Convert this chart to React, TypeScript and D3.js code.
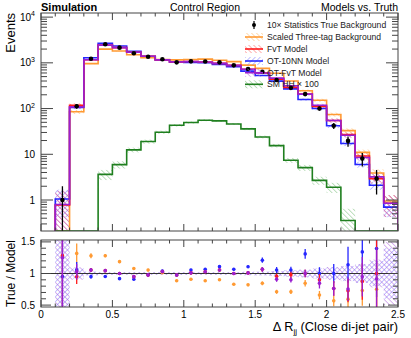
import * as d3 from "d3";

const FONT = "'Liberation Sans', Arial, Helvetica, sans-serif";

// bin edges of ΔR_jj (close di-jet pair)
const binEdges = [0.1, 0.2, 0.3, 0.4, 0.5, 0.6, 0.7, 0.8, 0.9, 1.0, 1.1, 1.2, 1.3, 1.4, 1.5, 1.6, 1.7, 1.8, 1.9, 2.0, 2.1, 2.2, 2.3, 2.4, 2.5];

// 10x statistics true background (points) and its relative error
const truth = [1.0, 112, 1230, 2550, 2150, 1620, 1360, 1195, 1026, 1079, 1070, 1026, 881, 731, 638, 420, 284, 207, 100, 42, 19.6, 8.05, 2.93, 0];
const truthErr = [1.0, 0.12, 0.03, 0.02, 0.02, 0.02, 0.02, 0.02, 0.02, 0.02, 0.02, 0.02, 0.02, 0.02, 0.035, 0.045, 0.05, 0.06, 0.1, 0.15, 0.25, 0.33, 0.55, 0];

// models
const threeTag = [0, 85, 960, 1990, 1810, 1500, 1290, 1180, 1158, 1186, 1208, 1140, 1061, 891, 755, 591, 400, 245, 152, 74, 33, 11, 3.9, 0.95];
const fvt = [0.78, 118, 1165, 2440, 2150, 1705, 1395, 1160, 1050, 1068, 1040, 972, 881, 724, 598, 440, 290, 207, 111, 55, 27, 9.2, 2.93, 0.85];
const ot10nn = [1.05, 106, 1295, 2680, 2340, 1780, 1390, 1150, 1051, 1022, 1003, 926, 826, 660, 527, 398, 269, 158, 100, 42, 17.2, 6, 2.1, 0.7];
const otFvt = [0.8, 109, 1165, 2440, 2150, 1705, 1395, 1160, 1050, 1068, 1040, 972, 881, 724, 598, 462, 315, 207, 118, 55, 26, 8.5, 3.2, 0.85];
const smHH = [0, 0, 0, 3.64, 5.95, 12.5, 19, 30.4, 43, 49.5, 55.7, 53.8, 46, 35.9, 23.9, 15.5, 7.4, 5.1, 2.69, 1.9, 0.357, 0, 0, 0];

// relative uncertainties (hatched bands)
const threeTagErr = [0, 0.1, 0.03, 0.02, 0.02, 0.02, 0.02, 0.02, 0.02, 0.02, 0.02, 0.02, 0.02, 0.02, 0.03, 0.04, 0.05, 0.06, 0.08, 0.1, 0.12, 0.15, 0.2, 0.35];
const fvtErr = [1.0, 0.1, 0.03, 0.02, 0.02, 0.02, 0.02, 0.02, 0.02, 0.02, 0.02, 0.02, 0.02, 0.02, 0.03, 0.04, 0.05, 0.06, 0.08, 0.1, 0.12, 0.15, 0.22, 0.5];
const ot10nnErr = [0.6, 0.08, 0.03, 0.02, 0.02, 0.02, 0.02, 0.02, 0.02, 0.02, 0.02, 0.02, 0.02, 0.03, 0.03, 0.04, 0.05, 0.06, 0.08, 0.1, 0.12, 0.15, 0.2, 0.4];
const smHHErr = [0, 0, 0, 0.25, 0.18, 0.12, 0.1, 0.08, 0.06, 0.05, 0.05, 0.05, 0.05, 0.06, 0.07, 0.09, 0.12, 0.15, 0.2, 0.25, 0.8, 0, 0, 0];

const yTickLabels = [
  { v: 1, base: "1", exp: "" },
  { v: 10, base: "10", exp: "" },
  { v: 100, base: "10", exp: "2" },
  { v: 1000, base: "10", exp: "3" },
  { v: 10000, base: "10", exp: "4" },
];
const ratioTicks = [0.5, 1, 1.5];
const xTickLabels = [0, 0.5, 1, 1.5, 2, 2.5];

const legendLabels = ["10× Statistics True Background", "Scaled Three-tag Background", "FvT Model", "OT-10NN Model", "OT-FvT Model", "SM HH × 100"];

const C = {
  orange: "#ff9a33",
  red: "#ff1a1a",
  blue: "#2626ff",
  purple: "#9a1fd0",
  green: "#1f7f1f",
};

const L = 41, R = 398;
const T1 = 13, B1 = 231;
const T2 = 240, B2 = 307;

export default function App() {
  const x = d3.scaleLinear().domain([0, 2.5]).range([L, R]);
  const y = d3.scaleLog().domain([0.21, 12300]).range([B1, T1]).clamp(true);
  const yr = d3.scaleLinear().domain([0.47, 1.53]).range([B2, T2]).clamp(true);
  const line = d3.line<[number, number]>();

  const yv = (v: number) => (v > 0 ? y(v) : B1);

  const stepPath = (vals: number[]) => {
    const pts: [number, number][] = [[x(binEdges[0]), B1]];
    vals.forEach((v, i) => {
      pts.push([x(binEdges[i]), yv(v)]);
      pts.push([x(binEdges[i + 1]), yv(v)]);
    });
    pts.push([x(binEdges[binEdges.length - 1]), B1]);
    return line(pts) || "";
  };

  const band = (vals: number[], errs: number[], pat: string, key: string) =>
    vals.map((v, i) => {
      if (v <= 0 || errs[i] <= 0) return null;
      const top = yv(v * (1 + errs[i]));
      const bot = v * (1 - errs[i]) > 0 ? yv(v * (1 - errs[i])) : B1;
      return (
        <rect key={`${key}-${i}`} x={x(binEdges[i])} y={top} width={x(binEdges[i + 1]) - x(binEdges[i])} height={Math.max(0, bot - top)} fill={`url(#${pat})`} />
      );
    });

  const ratioBand = (vals: number[], errs: number[], pat: string, key: string) =>
    vals.map((v, i) => {
      if (v <= 0 || errs[i] <= 0) return null;
      const top = yr(1 + errs[i]);
      const bot = yr(1 - errs[i]);
      return <rect key={`${key}-${i}`} x={x(binEdges[i])} y={top} width={x(binEdges[i + 1]) - x(binEdges[i])} height={bot - top} fill={`url(#${pat})`} />;
    });

  const models = [
    { vals: threeTag, errs: threeTagErr, color: C.orange, pat: "h-orange" },
    { vals: ot10nn, errs: ot10nnErr, color: C.blue, pat: "h-blue" },
    { vals: fvt, errs: fvtErr, color: C.red, pat: "h-red" },
    { vals: otFvt, errs: fvtErr, color: C.purple, pat: "h-purple" },
  ];

  const centers = binEdges.slice(0, -1).map((e, i) => (e + binEdges[i + 1]) / 2);

  // ticks
  const logTicks: { v: number; major: boolean }[] = [];
  for (let d = -1; d <= 4; d++) {
    for (let k = 1; k <= 9; k++) {
      const v = k * Math.pow(10, d);
      if (v >= 0.21 && v <= 12300) logTicks.push({ v, major: k === 1 });
    }
  }
  const xTicks = d3.range(0, 26).map((i) => ({ v: i / 10, major: i % 5 === 0 }));
  const rTicks = d3.range(5, 16).map((i) => ({ v: i / 10, major: i % 5 === 0 }));

  const hatch = (id: string, color: string, angle: number) => (
    <pattern id={id} patternUnits="userSpaceOnUse" width={3.5} height={3.5} patternTransform={`rotate(${angle})`}>
      <line x1={0} y1={0} x2={0} y2={3.5} stroke={color} strokeWidth={1} />
    </pattern>
  );

  const legendColors = [null, C.orange, C.red, C.blue, C.purple, C.green];
  const legendPats = [null, "h-orange", "h-red", "h-blue", "h-purple", "h-green"];
  const legendY = [25, 37, 49, 61, 72.7, 84.3];

  return (
    <svg width={411} height={338} style={{ position: "absolute", left: 0, top: 0, background: "#fff" }} fontFamily={FONT}>
      <defs>
        {hatch("h-orange", "#ffb866", -45)}
        {hatch("h-red", "#ff6666", -45)}
        {hatch("h-blue", "#8080ff", 45)}
        {hatch("h-purple", "#b066dd", -45)}
        {hatch("h-green", "#7fc07f", -45)}
        <clipPath id="clip-top">
          <rect x={L} y={T1} width={R - L} height={B1 - T1} />
        </clipPath>
        <clipPath id="clip-bot">
          <rect x={L} y={T2} width={R - L} height={B2 - T2} />
        </clipPath>
      </defs>

      {/* header */}
      <text x={L} y={10.5} fontSize={11} fontWeight="bold">Simulation</text>
      <text x={205} y={10.5} fontSize={10.5} textAnchor="middle">Control Region</text>
      <text x={R} y={10.5} fontSize={10.5} textAnchor="end">Models vs. Truth</text>

      {/* upper panel */}
      <g clipPath="url(#clip-top)">
        {band(smHH, smHHErr, "h-green", "bg")}
        {models.map((m) => band(m.vals, m.errs, m.pat, m.pat))}
        {models.map((m) => (
          <path key={m.color} d={stepPath(m.vals)} fill="none" stroke={m.color} strokeWidth={1.6} />
        ))}
        <path d={stepPath(smHH)} fill="none" stroke={C.green} strokeWidth={1.6} />
        {truth.map((v, i) =>
          v > 0 ? (
            <g key={`pt-${i}`}>
              <line x1={x(centers[i])} x2={x(centers[i])} y1={yv(v * (1 + truthErr[i]))} y2={v * (1 - truthErr[i]) > 0 ? yv(v * (1 - truthErr[i])) : B1} stroke="#000" strokeWidth={1.3} />
              <circle cx={x(centers[i])} cy={yv(v)} r={2.3} fill="#000" />
            </g>
          ) : null
        )}
      </g>

      {/* legend */}
      {legendLabels.map((lab, i) => (
        <g key={lab}>
          {i === 0 ? (
            <>
              <line x1={254} x2={254} y1={legendY[i] - 4} y2={legendY[i] + 4} stroke="#000" strokeWidth={1.2} />
              <circle cx={254} cy={legendY[i]} r={2} fill="#000" />
            </>
          ) : (
            <>
              <rect x={245} y={legendY[i] - 4} width={18} height={8} fill={`url(#${legendPats[i]})`} />
              <line x1={245} x2={263} y1={legendY[i]} y2={legendY[i]} stroke={legendColors[i] as string} strokeWidth={1.6} />
            </>
          )}
          <text x={267} y={legendY[i] + 3} fontSize={8.6} fill="#222">{lab}</text>
        </g>
      ))}

      {/* upper frame and ticks */}
      <rect x={L} y={T1} width={R - L} height={B1 - T1} fill="none" stroke="#444" strokeWidth={1} />
      {logTicks.map((t) => (
        <g key={`lt-${t.v}`} stroke="#444" strokeWidth={1}>
          <line x1={L} x2={L + (t.major ? 12 : 6)} y1={y(t.v)} y2={y(t.v)} />
          <line x1={R} x2={R - (t.major ? 12 : 6)} y1={y(t.v)} y2={y(t.v)} />
        </g>
      ))}
      {xTicks.map((t) => (
        <g key={`xt1-${t.v}`} stroke="#444" strokeWidth={1}>
          <line x1={x(t.v)} x2={x(t.v)} y1={B1} y2={B1 - (t.major ? 7 : 3.5)} />
          <line x1={x(t.v)} x2={x(t.v)} y1={T1} y2={T1 + (t.major ? 7 : 3.5)} />
        </g>
      ))}
      {yTickLabels.map((t) => (
        <text key={`yl-${t.v}`} x={35} y={y(t.v) + 3.5} fontSize={10} textAnchor="end">
          {t.base}
          {t.exp ? <tspan fontSize={7} dy={-4.5}>{t.exp}</tspan> : null}
        </text>
      ))}
      <text transform={`translate(15, ${T1}) rotate(-90)`} fontSize={13} textAnchor="end">Events</text>

      {/* ratio panel */}
      <g clipPath="url(#clip-bot)">
        {ratioBand(ot10nn, ot10nnErr, "h-blue", "rb-blue")}
        {ratioBand(otFvt, fvtErr, "h-purple", "rb-purple")}
        <line x1={L} x2={R} y1={yr(1)} y2={yr(1)} stroke="#333" strokeWidth={1.2} />
        {models.map((m) =>
          truth.map((v, i) => {
            if (v <= 0 || m.vals[i] <= 0) return null;
            const r = v / m.vals[i];
            const e = truthErr[i] * r;
            return (
              <g key={`r-${m.color}-${i}`}>
                <line x1={x(centers[i])} x2={x(centers[i])} y1={yr(r + e)} y2={yr(r - e)} stroke={m.color} strokeWidth={1.3} />
                <circle cx={x(centers[i])} cy={yr(r)} r={1.8} fill={m.color} />
              </g>
            );
          })
        )}
      </g>
      <rect x={L} y={T2} width={R - L} height={B2 - T2} fill="none" stroke="#444" strokeWidth={1} />
      {rTicks.map((t) => (
        <g key={`rt-${t.v}`} stroke="#444" strokeWidth={1}>
          <line x1={L} x2={L + (t.major ? 10 : 5)} y1={yr(t.v)} y2={yr(t.v)} />
          <line x1={R} x2={R - (t.major ? 10 : 5)} y1={yr(t.v)} y2={yr(t.v)} />
        </g>
      ))}
      {xTicks.map((t) => (
        <g key={`xt2-${t.v}`} stroke="#444" strokeWidth={1}>
          <line x1={x(t.v)} x2={x(t.v)} y1={B2} y2={B2 - (t.major ? 7 : 3.5)} />
          <line x1={x(t.v)} x2={x(t.v)} y1={T2} y2={T2 + (t.major ? 7 : 3.5)} />
        </g>
      ))}
      {ratioTicks.map((t) => (
        <text key={`rl-${t}`} x={35} y={yr(t) + 3.5} fontSize={10} textAnchor="end">{t}</text>
      ))}
      {xTickLabels.map((t) => (
        <text key={`xl-${t}`} x={x(t)} y={318} fontSize={10} textAnchor="middle">{t}</text>
      ))}
      <text transform={`translate(15, ${(T2 + B2) / 2}) rotate(-90)`} fontSize={12} textAnchor="middle">True / Model</text>
      <text x={R} y={331} fontSize={12.8} textAnchor="end">
        Δ R<tspan fontSize={8} dy={3}>jj</tspan>
        <tspan dy={-3}> (Close di-jet pair)</tspan>
      </text>
    </svg>
  );
}
